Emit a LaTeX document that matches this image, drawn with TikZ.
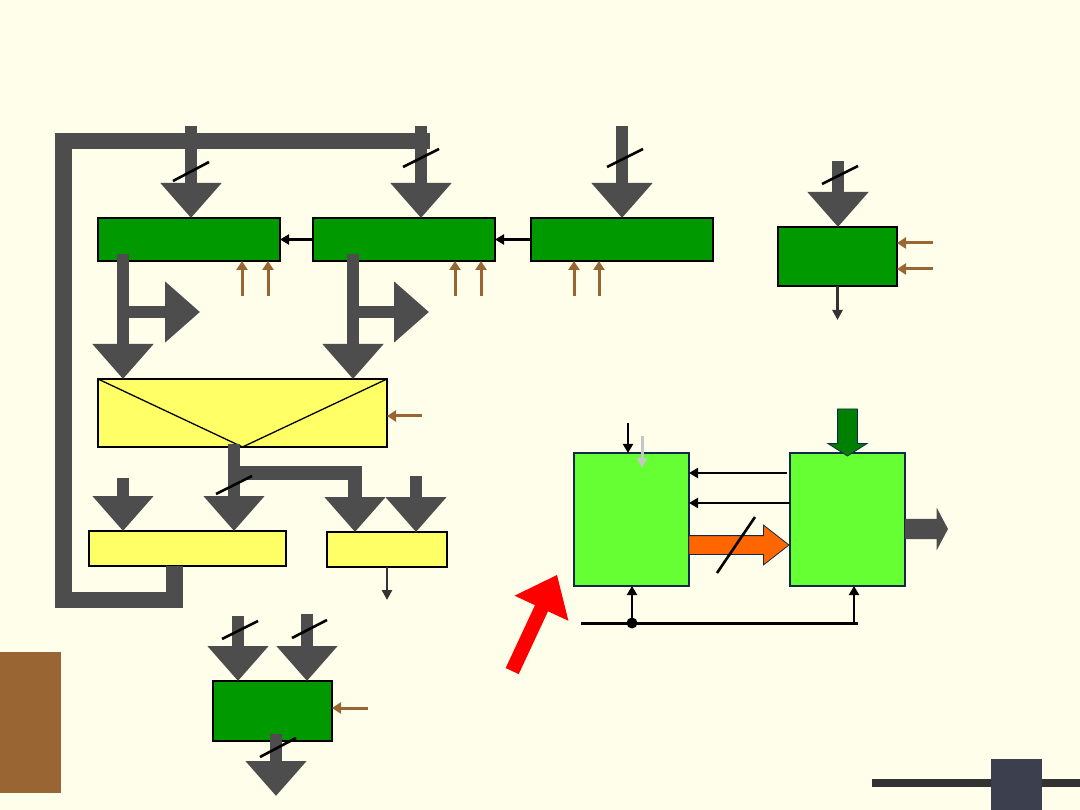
\documentclass[tikz,border=0pt]{standalone}
\usetikzlibrary{arrows.meta,calc,shapes.arrows}
\definecolor{PaperCream}{HTML}{FFFEEA}
\definecolor{BusGray}{HTML}{4D4D4D}
\definecolor{RegGreen}{HTML}{009900}
\definecolor{MuxYellow}{HTML}{FFFF66}
\definecolor{CtrlGreen}{HTML}{66FF33}
\definecolor{CtrlBrown}{HTML}{996633}
\definecolor{DataOrange}{HTML}{FF6600}
\definecolor{EdgeNavy}{HTML}{13294B}
\definecolor{LoadGreen}{HTML}{008000}
\definecolor{WireDark}{HTML}{333333}
\definecolor{TileSlate}{HTML}{3B3F4E}

\tikzset{
  reg/.style={draw=black, line width=2pt, fill=RegGreen, inner sep=0pt, outer sep=0pt},
  mux/.style={draw=black, line width=1.6pt, fill=MuxYellow, inner sep=0pt, outer sep=0pt},
  unit/.style={draw=EdgeNavy, line width=1.6pt, fill=CtrlGreen, inner sep=0pt, outer sep=0pt},
  bus/.style={BusGray, line width=12pt, -{Triangle[width=59pt,length=35pt]}},
  sig/.style={draw=black, line width=2.7pt, -{Triangle[width=10pt,length=9pt]}},
  ctl/.style={draw=CtrlBrown, line width=3pt, -{Triangle[width=11pt,length=9pt]}},
  wireout/.style={draw=WireDark, line width=2.8pt, -{Triangle[width=10pt,length=10pt]}},
  slash/.style={black, line width=2.6pt},
  fat/.style={single arrow, inner xsep=0pt, outer sep=0pt, minimum width=0pt}
}

\begin{document}
\begin{tikzpicture}[x=1pt, y=-1pt]
  \fill[PaperCream] (0,0) rectangle (1080,810);
  \useasboundingbox (0,0) rectangle (1080,810);

  % corner decorations
  \fill[CtrlBrown] (0,652) rectangle (61,793);
  \fill[WireDark] (872,779) rectangle (1080,787);
  \fill[TileSlate] (991,759) rectangle (1042,810);

  % registers and multiplexers
  \node[reg, minimum width=182pt, minimum height=43pt] (A) at (189,239.5) {};
  \node[reg, minimum width=182pt, minimum height=43pt] (B) at (404,239.5) {};
  \node[reg, minimum width=182pt, minimum height=43pt] (C) at (622,239.5) {};
  \node[reg, minimum width=119pt, minimum height=59pt] (D) at (837.5,256.5) {};
  \node[mux, minimum width=289pt, minimum height=68pt] (M) at (242.5,413) {};
  \draw[black, line width=1.3pt] (M.north west) -- (M.south) -- (M.north east);
  \node[mux, minimum width=197pt, minimum height=35pt] (E) at (187.5,548.5) {};
  \node[mux, minimum width=120pt, minimum height=35pt] (F) at (387,549.5) {};
  \node[reg, minimum width=119pt, minimum height=60pt] (G) at (272.5,711) {};

  % feedback bus
  \coordinate (ret) at (174.5,566);
  \draw[BusGray, line width=16.5pt] (ret) |- (63.5,600) |- (430,141);

  % bus arrows into the registers
  \coordinate (inA) at (191,126);
  \coordinate (inB) at (421,126);
  \coordinate (inC) at (622,126);
  \coordinate (inD) at (838,161);
  \draw[bus] (inA) -- (inA |- A.north);
  \draw[bus] (inB) -- (inB |- B.north);
  \draw[bus] (inC) -- (inC |- C.north);
  \draw[bus] (inD) -- (inD |- D.north);
  \draw[slash] (173,181) -- (209,162);
  \draw[slash] (403,167) -- (439,149);
  \draw[slash] (607,167) -- (643,149);
  \draw[slash] (822,184) -- (858,166);

  \draw[sig] (B.west) -- (A.east);
  \draw[sig] (C.west) -- (B.east);

  % register outputs
  \coordinate (outA) at (123,254);
  \coordinate (outB) at (353,254);
  \draw[bus] (outA) -- (outA |- M.north);
  \draw[bus] (outB) -- (outB |- M.north);
  \coordinate (tapA) at (123,312);
  \coordinate (tapB) at (353,312);
  \draw[bus] (tapA) -- ++(77,0);
  \draw[bus] (tapB) -- ++(76,0);

  % control lines
  \foreach \x/\r in {242/A,268/A,455/B,481/B,574/C,599/C}{
    \coordinate (c) at (\x,296);
    \draw[ctl] (c) -- (c |- \r.south);
  }
  \coordinate (dc1) at (933,243);
  \coordinate (dc2) at (933,269);
  \draw[ctl] (dc1) -- (dc1 -| D.east);
  \draw[ctl] (dc2) -- (dc2 -| D.east);
  \coordinate (mc) at (422,416);
  \draw[ctl] (mc) -- (mc -| M.east);
  \coordinate (gc) at (368,708);
  \draw[ctl] (gc) -- (gc -| G.east);
  \draw[wireout] (D.south) -- ++(0,34);
  \draw[wireout] (F.south) -- ++(0,33);

  % multiplexer output
  \coordinate (muxOut) at (234,444);
  \coordinate (muxTap) at (234,473);
  \coordinate (fIn) at (355,532);
  \draw[bus] (muxOut) -- (muxOut |- E.north);
  \draw[bus, line width=14pt] (muxTap) -| (fIn);
  \draw[slash] (216,494) -- (252,476);
  \coordinate (eIn) at (123,478);
  \coordinate (fIn2) at (416,476);
  \draw[bus] (eIn) -- (eIn |- E.north);
  \draw[bus] (fIn2) -- (fIn2 |- F.north);

  % lower register
  \coordinate (gIn1) at (238,616);
  \coordinate (gIn2) at (307,614);
  \coordinate (gOut) at (276,734);
  \draw[bus] (gIn1) -- (gIn1 |- G.north);
  \draw[bus] (gIn2) -- (gIn2 |- G.north);
  \draw[bus] (gOut) -- ++(0,62);
  \draw[slash] (222,639) -- (258,621);
  \draw[slash] (292,638) -- (327,620);
  \draw[slash] (260,757) -- (296,738);

  % control unit and data path
  \node[unit, minimum width=115pt, minimum height=133pt] (H) at (631.5,519.5) {};
  \node[unit, minimum width=115pt, minimum height=133pt] (I) at (847.5,519.5) {};
  \coordinate (hIn) at (628,423);
  \draw[sig] (hIn) -- (hIn |- H.north);
  \draw[draw=gray!45, line width=3pt, -{Triangle[width=10pt,length=10pt]}] (642,436) -- (642,468);
  \coordinate (r1) at (787,473);
  \coordinate (r2) at (790,503);
  \draw[sig] (r1) -- (r1 -| H.east);
  \draw[sig] (r2) -- (r2 -| H.east);

  \node[fat, fill=LoadGreen, draw=EdgeNavy, line width=0.8pt, inner ysep=9.5pt,
        single arrow head extend=9.5pt, single arrow tip angle=115,
        minimum height=47pt, rotate=-90, anchor=tip] (load) at (847.5,456) {};
  \node[fat, fill=DataOrange, draw=EdgeNavy, line width=0.8pt, inner ysep=9pt,
        single arrow head extend=10.5pt, single arrow tip angle=76,
        minimum height=100pt, anchor=tail] (data) at (689,545) {};
  \draw[slash] (717,573) -- (755,517);
  \node[fat, fill=BusGray, inner ysep=10pt,
        single arrow head extend=11pt, single arrow tip angle=124,
        minimum height=43pt, anchor=tail] (result) at (905,529) {};

  \coordinate (busL) at (581,623);
  \coordinate (busR) at (858,623);
  \coordinate (tapH) at (632,623);
  \coordinate (tapI) at (854,623);
  \draw[black, line width=3pt] (busL) -- (busR);
  \fill[black] (tapH) circle (5.5);
  \draw[sig] (tapH) -- (tapH |- H.south);
  \draw[sig] (tapI) -- (tapI |- I.south);

  \node[fat, fill=red, inner ysep=7pt,
        single arrow head extend=22.5pt, single arrow tip angle=78,
        minimum height=106pt, rotate=65, anchor=tip] (pointer) at (557,575) {};
\end{tikzpicture}
\end{document}
